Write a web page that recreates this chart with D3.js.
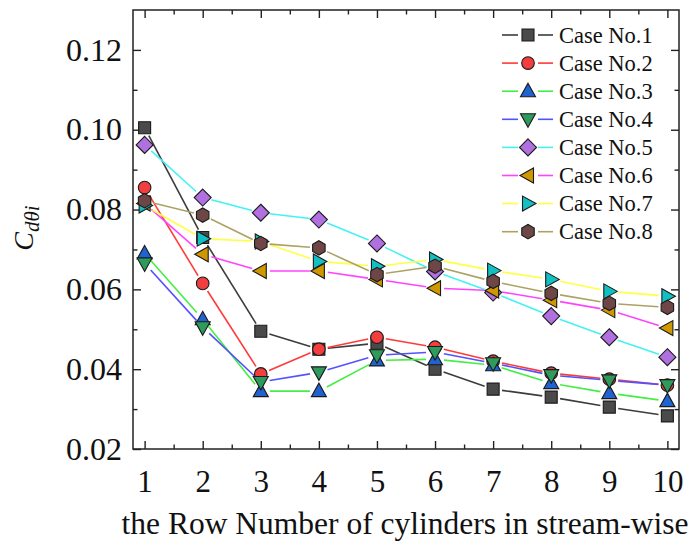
<!DOCTYPE html>
<html>
<head>
<meta charset="utf-8">
<script src="https://cdn.jsdelivr.net/npm/d3@7"></script>
<style>
  html, body { margin: 0; padding: 0; background: #fff; }
  svg { display: block; }
  text { font-family: "Liberation Serif", "Times New Roman", serif; fill: #111; }
</style>
</head>
<body>
<svg id="chart" width="695" height="542"></svg>
<script>
// Row numbers along the stream-wise direction
const rows = [1, 2, 3, 4, 5, 6, 7, 8, 9, 10];

// C_dθi per row for each case
const case1 = [0.1005, 0.0730, 0.0495, 0.0450, 0.0465, 0.0400, 0.0350, 0.0330, 0.0305, 0.0283];
const case2 = [0.0855, 0.0615, 0.0388, 0.0450, 0.0480, 0.0455, 0.0420, 0.0390, 0.0375, 0.0360];
const case3 = [0.0690, 0.0525, 0.0345, 0.0345, 0.0422, 0.0425, 0.0410, 0.0365, 0.0340, 0.0320];
const case4 = [0.0665, 0.0505, 0.0368, 0.0392, 0.0435, 0.0443, 0.0415, 0.0385, 0.0372, 0.0360];
const case5 = [0.0962, 0.0830, 0.0792, 0.0775, 0.0715, 0.0645, 0.0592, 0.0533, 0.0480, 0.0430];
const case6 = [0.0815, 0.0688, 0.0646, 0.0646, 0.0625, 0.0603, 0.0597, 0.0573, 0.0548, 0.0503];
const case7 = [0.0810, 0.0727, 0.0720, 0.0670, 0.0658, 0.0675, 0.0647, 0.0625, 0.0595, 0.0583];
const case8 = [0.0822, 0.0786, 0.0715, 0.0704, 0.0637, 0.0658, 0.0620, 0.0590, 0.0565, 0.0555];

const seriesNames = ["Case No.1", "Case No.2", "Case No.3", "Case No.4",
                     "Case No.5", "Case No.6", "Case No.7", "Case No.8"];
const seriesValues = [case1, case2, case3, case4, case5, case6, case7, case8];

const xTicks = [1, 2, 3, 4, 5, 6, 7, 8, 9, 10];
const yTicks = [0.02, 0.04, 0.06, 0.08, 0.10, 0.12];

// Styling per series: marker shape, marker fill, connecting line colour
const styles = [
  { shape: "square",   fill: "#4a4a4a", line: "#3c3c3c" },
  { shape: "circle",   fill: "#f23e3e", line: "#ff3a3a" },
  { shape: "triUp",    fill: "#1f62d0", line: "#44ee44" },
  { shape: "triDown",  fill: "#2e9a5c", line: "#5252ff" },
  { shape: "diamond",  fill: "#b070e0", line: "#44f2f2" },
  { shape: "triLeft",  fill: "#cf9800", line: "#ff44ff" },
  { shape: "triRight", fill: "#12c0c2", line: "#ffff44" },
  { shape: "hexagon",  fill: "#6e4646", line: "#aca262" }
];

const svg = d3.select("#chart");
const plot = { left: 133, right: 679, top: 10, bottom: 449 };

const x = d3.scaleLinear().domain([0.8, 10.2]).range([plot.left, plot.right]);
const y = d3.scaleLinear().domain([0.02, 0.13]).range([plot.bottom, plot.top]);

// Marker path generators centred on (0,0)
function markerPath(shape) {
  switch (shape) {
    case "square":   return "M-6,-6H6V6H-6Z";
    case "circle":   return d3.symbol(d3.symbolCircle, 125)();
    case "triUp":    return "M0,-8L7.5,5.5L-7.5,5.5Z";
    case "triDown":  return "M0,8L7.5,-5.5L-7.5,-5.5Z";
    case "triLeft":  return "M-8,0L5.5,-7.5L5.5,7.5Z";
    case "triRight": return "M8,0L-5.5,-7.5L-5.5,7.5Z";
    case "diamond":  return "M0,-8.5L8.5,0L0,8.5L-8.5,0Z";
    case "hexagon": {
      const r = 7.2;
      const pts = d3.range(6).map(i => {
        const a = Math.PI / 6 + i * Math.PI / 3;
        return [r * Math.cos(a), r * Math.sin(a)];
      });
      return "M" + pts.map(p => p.join(",")).join("L") + "Z";
    }
  }
}

// Axes frame with inward ticks on all four sides
const gFrame = svg.append("g");
const axisStyle = g => {
  g.selectAll(".domain").remove();
  g.selectAll("line").attr("stroke", "#222").attr("stroke-width", 1.4);
};

const xMinor = d3.range(1.5, 10.5, 1);
const yMinor = d3.range(0.03, 0.13, 0.02);

gFrame.append("g").attr("transform", `translate(0,${plot.bottom})`)
  .call(d3.axisBottom(x).tickValues(xTicks).tickSizeInner(-8).tickSizeOuter(0).tickPadding(21).tickFormat(d3.format("d")))
  .call(axisStyle)
  .call(g => g.selectAll("text").attr("font-size", 31).attr("font-family", "Liberation Serif").attr("fill", "#111"));
gFrame.append("g").attr("transform", `translate(0,${plot.bottom})`)
  .call(d3.axisBottom(x).tickValues(xMinor).tickSizeInner(-4.5).tickSizeOuter(0).tickFormat(""))
  .call(axisStyle);
gFrame.append("g").attr("transform", `translate(0,${plot.top})`)
  .call(d3.axisTop(x).tickValues(xTicks).tickSizeInner(-8).tickSizeOuter(0).tickFormat(""))
  .call(axisStyle);
gFrame.append("g").attr("transform", `translate(0,${plot.top})`)
  .call(d3.axisTop(x).tickValues(xMinor).tickSizeInner(-4.5).tickSizeOuter(0).tickFormat(""))
  .call(axisStyle);

gFrame.append("g").attr("transform", `translate(${plot.left},0)`)
  .call(d3.axisLeft(y).tickValues(yTicks).tickSizeInner(-8).tickSizeOuter(0).tickPadding(11).tickFormat(d3.format(".2f")))
  .call(axisStyle)
  .call(g => g.selectAll("text").attr("font-size", 32).attr("font-family", "Liberation Serif").attr("fill", "#111"));
gFrame.append("g").attr("transform", `translate(${plot.left},0)`)
  .call(d3.axisLeft(y).tickValues(yMinor).tickSizeInner(-4.5).tickSizeOuter(0).tickFormat(""))
  .call(axisStyle);
gFrame.append("g").attr("transform", `translate(${plot.right},0)`)
  .call(d3.axisRight(y).tickValues(yTicks).tickSizeInner(-8).tickSizeOuter(0).tickFormat(""))
  .call(axisStyle);
gFrame.append("g").attr("transform", `translate(${plot.right},0)`)
  .call(d3.axisRight(y).tickValues(yMinor).tickSizeInner(-4.5).tickSizeOuter(0).tickFormat(""))
  .call(axisStyle);

gFrame.append("rect")
  .attr("x", plot.left).attr("y", plot.top)
  .attr("width", plot.right - plot.left).attr("height", plot.bottom - plot.top)
  .attr("fill", "none").attr("stroke", "#222").attr("stroke-width", 1.5);

// Connecting lines, broken around each symbol
const gap = 9;
const gLines = svg.append("g");
seriesValues.forEach((vals, si) => {
  const pts = vals.map((v, i) => [x(rows[i]), y(v)]);
  const segs = [];
  for (let i = 0; i < pts.length - 1; i++) {
    const [x0, y0] = pts[i], [x1, y1] = pts[i + 1];
    const len = Math.hypot(x1 - x0, y1 - y0);
    if (len <= 2 * gap) continue;
    const ux = (x1 - x0) / len, uy = (y1 - y0) / len;
    segs.push([[x0 + ux * gap, y0 + uy * gap], [x1 - ux * gap, y1 - uy * gap]]);
  }
  gLines.selectAll(null).data(segs).enter().append("line")
    .attr("x1", d => d[0][0]).attr("y1", d => d[0][1])
    .attr("x2", d => d[1][0]).attr("y2", d => d[1][1])
    .attr("stroke", styles[si].line).attr("stroke-width", 1.6);
});

// Symbols
const gMarks = svg.append("g");
seriesValues.forEach((vals, si) => {
  gMarks.selectAll(null).data(vals).enter().append("path")
    .attr("d", markerPath(styles[si].shape))
    .attr("transform", (d, i) => `translate(${x(rows[i])},${y(d)})`)
    .attr("fill", styles[si].fill)
    .attr("stroke", "#1a1a1a").attr("stroke-width", 1.1);
});

// Legend
const legend = svg.append("g");
const legX0 = 502, legX1 = 553, legMid = 528, legY0 = 35, legDy = 28.1;
seriesNames.forEach((name, si) => {
  const ly = legY0 + si * legDy;
  legend.append("line").attr("x1", legX0).attr("x2", legMid - 10).attr("y1", ly).attr("y2", ly)
    .attr("stroke", styles[si].line).attr("stroke-width", 1.6);
  legend.append("line").attr("x1", legMid + 10).attr("x2", legX1).attr("y1", ly).attr("y2", ly)
    .attr("stroke", styles[si].line).attr("stroke-width", 1.6);
  legend.append("path").attr("d", markerPath(styles[si].shape))
    .attr("transform", `translate(${legMid},${ly})`)
    .attr("fill", styles[si].fill).attr("stroke", "#1a1a1a").attr("stroke-width", 1.1);
  legend.append("text").attr("x", 559).attr("y", ly + 7.5)
    .attr("font-size", 22.5).text(name);
});

// Axis titles
svg.append("text")
  .attr("x", 405).attr("y", 534)
  .attr("text-anchor", "middle").attr("font-size", 31.5)
  .text("the Row Number of cylinders in stream-wise");

const yTitle = svg.append("text")
  .attr("transform", "translate(33,228) rotate(-90)")
  .attr("text-anchor", "middle").attr("font-style", "italic");
yTitle.append("tspan").attr("font-size", 28).text("C");
yTitle.append("tspan").attr("font-size", 21).attr("dy", 6).text("dθi");
</script>
</body>
</html>
